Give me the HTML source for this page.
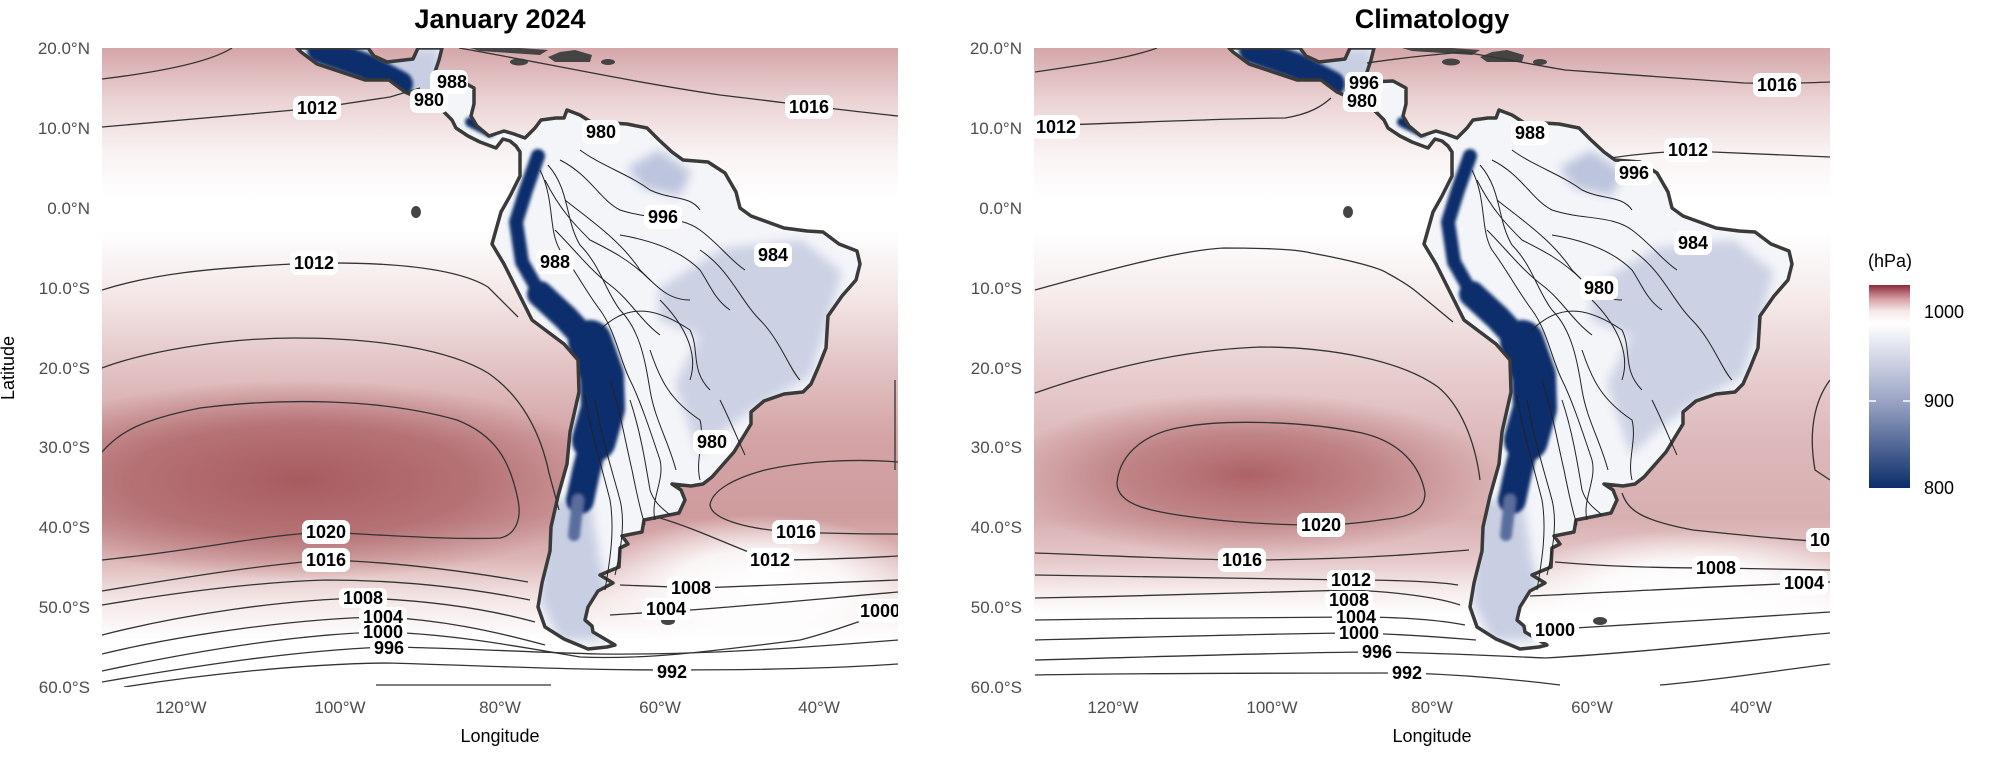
<!DOCTYPE html>
<html><head><meta charset="utf-8"><style>
html,body{margin:0;padding:0;background:#fff}
svg{display:block}
.t{font-family:"Liberation Sans",sans-serif;fill:#4d4d4d;font-size:17px}
.ttl{font-family:"Liberation Sans",sans-serif;font-weight:bold;font-size:27px;fill:#000}
.ax{font-family:"Liberation Sans",sans-serif;font-size:18px;fill:#000}
.c{fill:none;stroke:#333;stroke-width:1.3}
.lc{fill:none;stroke:#222;stroke-width:1}
.lb rect{fill:#fff}
.lb text{font-family:"Liberation Sans",sans-serif;font-weight:bold;font-size:18px;fill:#000;text-anchor:middle}
</style></head><body>
<svg width="1994" height="770" viewBox="0 0 1994 770" xmlns="http://www.w3.org/2000/svg">
<defs>
<clipPath id="cl"><rect x="102" y="48" width="796" height="639"/></clipPath>
<clipPath id="cr"><rect x="1034" y="48" width="796" height="639"/></clipPath>
<linearGradient id="nL" gradientUnits="userSpaceOnUse" x1="0" y1="48" x2="0" y2="200">
<stop offset="0" stop-color="#d4a6a9"/><stop offset="0.35" stop-color="#ebd3d4"/><stop offset="0.7" stop-color="#faf3f3"/><stop offset="1" stop-color="#fff"/></linearGradient>
<linearGradient id="sL" gradientUnits="userSpaceOnUse" x1="0" y1="230" x2="0" y2="640">
<stop offset="0" stop-color="#fff"/><stop offset="0.17" stop-color="#f3e5e5"/><stop offset="0.34" stop-color="#e2c2c3"/><stop offset="0.51" stop-color="#d3a3a5"/><stop offset="0.7" stop-color="#cf9c9e"/><stop offset="0.8" stop-color="#dcb5b6"/><stop offset="0.9" stop-color="#f4e6e6"/><stop offset="1" stop-color="#fff"/></linearGradient>
<linearGradient id="sR" gradientUnits="userSpaceOnUse" x1="0" y1="230" x2="0" y2="615">
<stop offset="0" stop-color="#fff"/><stop offset="0.18" stop-color="#f5eaea"/><stop offset="0.36" stop-color="#e8cfd0"/><stop offset="0.55" stop-color="#ddb8ba"/><stop offset="0.75" stop-color="#d8afb1"/><stop offset="0.86" stop-color="#e6c9ca"/><stop offset="0.94" stop-color="#f7eded"/><stop offset="1" stop-color="#fff"/></linearGradient>
<radialGradient id="hL"><stop offset="0" stop-color="#a85b5f"/><stop offset="0.55" stop-color="#b06a6d" stop-opacity="0.85"/><stop offset="1" stop-color="#b06a6d" stop-opacity="0"/></radialGradient>
<radialGradient id="hR"><stop offset="0" stop-color="#ad6266"/><stop offset="0.5" stop-color="#b8777a" stop-opacity="0.8"/><stop offset="1" stop-color="#b8777a" stop-opacity="0"/></radialGradient>
<radialGradient id="wh"><stop offset="0" stop-color="#fff"/><stop offset="0.5" stop-color="#fff" stop-opacity="0.85"/><stop offset="1" stop-color="#fff" stop-opacity="0"/></radialGradient>
<linearGradient id="cb" x1="0" y1="0" x2="0" y2="1">
<stop offset="0" stop-color="#8b2c3a"/><stop offset="0.07" stop-color="#d9a0a7"/><stop offset="0.13" stop-color="#f6e9eb"/><stop offset="0.19" stop-color="#fff"/><stop offset="0.57" stop-color="#9ba4c4"/><stop offset="1" stop-color="#0c2e6a"/></linearGradient>
<filter id="bl" x="-20%" y="-20%" width="140%" height="140%"><feGaussianBlur stdDeviation="5"/></filter>
<filter id="bl2"><feGaussianBlur stdDeviation="1.5"/></filter>
<path id="sa" d="M297,48 L301,52 L317,64 L341,72 L365,80 L389,80 L405,92 L428,102 L440,108 L452,120 L456,128 L468,136 L480,142 L496,148 L503,139 L510,141 L516,146 L520,152 L520,176 L510,196 L501,212 L492,244 L504,264 L516,288 L532,320 L564,344 L578,360 L579,392 L570,432 L567,464 L558,496 L551,527 L550,551 L542,583 L538,607 L545,627 L564,639 L588,649 L607,647 L615,645 L593,632 L592,626 L585,620 L588,607 L598,591 L613,583 L600,575 L619,567 L620,548 L628,544 L622,536 L642,532 L644,520 L679,513 L685,500 L681,490 L672,484 L691,486 L703,484 L712,477 L734,452 L751,424 L751,412 L764,401 L784,394 L803,392 L811,384 L818,368 L826,348 L828,316 L842,296 L856,280 L860,264 L857,251 L839,244 L823,232 L807,231 L784,228 L751,216 L740,208 L736,192 L725,173 L708,162 L683,160 L672,152 L659,140 L647,128 L627,124 L611,123 L594,124 L580,115 L567,110 L564,118 L556,118 L541,120 L535,128 L525,138 L514,134 L504,131 L489,136 L477,126 L471,116 L474,104 L474,88 L461,81 L437,82 L435,72 L439,60 L442,48 L418,48 L413,59 L387,62 L374,56 L368,48 Z"/>
<clipPath id="lc"><use href="#sa"/></clipPath>
<g id="land">
<use href="#sa" fill="#f4f5f9"/>
<g clip-path="url(#lc)">
<polygon filter="url(#bl)" fill="#ccd2e4" points="659,288 723,248 802,240 842,272 826,328 811,376 755,408 723,432 699,456 675,384 699,336 659,320"/>
<polygon filter="url(#bl)" fill="#bcc5dd" points="627,168 659,150 691,172 680,196 643,188"/>
<polygon filter="url(#bl)" fill="#c8cfe3" points="545,500 590,500 600,560 612,600 600,640 560,640 540,600"/>
<polygon filter="url(#bl)" fill="#c8cfe3" points="300,48 440,48 440,130 400,100 320,70"/>
<g filter="url(#bl2)" fill="none" stroke="#0b2f6c" stroke-linecap="round" stroke-linejoin="round">
<polyline stroke-width="26" points="320,50 365,66 400,84"/>
<polyline stroke-width="10" points="470,122 490,132"/>
<polyline stroke-width="14" points="538,156 526,190 516,222 522,262 540,294"/>
<polyline stroke-width="26" points="540,294 566,318 588,342"/>
<polyline stroke-width="44" points="590,342 602,376 603,408 594,440"/>
<polyline stroke-width="28" points="594,440 586,472 580,500"/>
<polyline stroke-width="12" stroke="#5a6e9e" points="578,500 574,535"/>
</g>
</g>
<use href="#sa" fill="none" stroke="#3a3a3a" stroke-width="3.5" stroke-linejoin="round"/>
<g fill="#444">
<polygon points="470,48 520,48 548,50 540,55 510,53 480,51"/>
<polygon points="548,57 560,52 575,50 592,55 590,62 570,62 555,62"/>
<ellipse cx="519" cy="62" rx="9" ry="3.5"/><ellipse cx="608" cy="62" rx="7" ry="3"/>
<ellipse cx="416" cy="212" rx="5" ry="6"/><ellipse cx="668" cy="621" rx="7" ry="4"/>
</g>
<g class="lc">
<path d="M540,170 C555,200 548,230 560,250 C575,270 585,290 600,310 C615,330 620,360 630,380 C640,400 650,430 660,460 C665,480 650,500 655,520"/>
<path d="M548,165 C570,190 565,220 580,245 C600,265 605,290 620,310 C640,330 645,360 650,390 C655,420 668,440 676,470"/>
<path d="M560,160 C590,175 600,200 620,210 C650,220 680,215 700,230 C720,245 730,260 745,270"/>
<path d="M580,150 C600,165 630,175 650,190 C670,200 690,195 700,210"/>
<path d="M600,330 C630,300 660,310 690,330 C700,350 690,370 710,390"/>
<path d="M650,350 C660,380 670,400 700,420 C705,440 695,460 700,480"/>
<path d="M630,400 C640,430 645,460 650,490 C655,505 665,510 670,515"/>
<path d="M585,395 C590,430 600,460 610,500 C615,530 610,560 605,590"/>
<path d="M595,400 C602,440 612,470 620,500 C625,520 622,545 615,575"/>
<path d="M700,250 C730,270 740,300 760,320 C780,340 790,370 800,380"/>
<path d="M565,200 C590,220 620,240 640,270 C660,290 670,300 690,300"/>
<path d="M660,300 C680,320 700,350 690,380"/>
<path d="M545,180 C560,210 575,225 590,240 C610,250 630,260 650,280"/>
<path d="M555,230 C575,250 590,270 610,285 C630,300 640,320 660,335"/>
<path d="M610,380 C620,410 625,440 632,470 C636,490 640,510 645,525"/>
<path d="M620,235 C650,240 680,250 700,270 C710,285 715,300 730,310"/>
<path d="M720,400 C730,420 738,440 745,455"/>
</g>
</g>
</defs>

<text class="ttl" x="500" y="28" text-anchor="middle">January 2024</text>
<text class="ttl" x="1432" y="28" text-anchor="middle">Climatology</text>

<g clip-path="url(#cl)">
<rect x="102" y="48" width="796" height="639" fill="#fff"/>
<rect x="102" y="48" width="796" height="160" fill="url(#nL)"/>
<rect x="102" y="230" width="796" height="420" fill="url(#sL)"/>
<ellipse cx="300" cy="480" rx="320" ry="100" fill="url(#hL)"/>
<ellipse cx="760" cy="585" rx="170" ry="70" fill="url(#wh)"/>
<use href="#land"/>
<g class="c">
<path d="M102,79 C160,72 210,62 232,48"/>
<path d="M459,48 C540,62 620,80 720,95 C780,102 840,110 898,116"/>
<path d="M102,127 L250,114 L317,108 L390,97 L420,88"/>
<path d="M102,290 C150,275 200,268 314,263 C400,262 460,270 488,287 L518,317"/>
<path d="M102,368 C150,350 230,338 294,338 C380,338 450,350 488,373 C520,395 540,430 549,473 L559,510"/>
<path d="M102,591 C180,578 260,565 326,560 C400,562 470,572 528,582"/>
<path d="M102,452 C120,432 140,420 200,408 C280,398 380,398 457,420 C495,435 510,460 518,500 C522,520 515,535 500,538 C450,540 380,535 326,532 C260,535 200,550 102,560"/>
<path d="M102,605 C180,592 260,582 326,580 C400,580 470,588 530,600"/>
<path d="M102,635 C180,615 280,600 363,598 C420,600 480,607 535,622"/>
<path d="M102,654 C180,635 300,618 383,617 C440,620 490,630 545,645"/>
<path d="M102,671 C200,650 300,634 383,632 C450,634 510,645 580,657 C650,660 720,650 800,640 C840,630 870,616 898,610"/>
<path d="M102,682 C200,665 300,650 388,647 C460,648 520,652 600,654 C700,655 800,648 898,640"/>
<path d="M124,687 C200,675 300,664 386,663 C470,665 560,670 674,670 C760,670 840,668 898,664"/>
<path d="M376,685 L551,685"/>
<path d="M620,585 L700,588 C780,585 850,582 898,580"/>
<path d="M610,615 L690,610 C760,605 830,598 898,592"/>
<path d="M660,518 C700,530 740,550 770,560 C820,560 860,558 898,556"/>
<path d="M898,462 C850,458 800,462 765,470 C735,478 712,490 710,505 C712,520 750,530 796,532 C840,534 870,534 898,534"/>
<path d="M895,380 L895,470"/>
</g>
<g class="lb">
<rect x="430" y="70" width="38" height="24" rx="7"/><text x="452" y="88">988</text>
<rect x="410" y="89" width="38" height="24" rx="7"/><text x="429" y="106">980</text>
<rect x="293" y="96" width="48" height="24" rx="7"/><text x="317" y="114">1012</text>
<rect x="582" y="120" width="38" height="24" rx="7"/><text x="601" y="138">980</text>
<rect x="644" y="205" width="38" height="24" rx="7"/><text x="663" y="223">996</text>
<rect x="536" y="250" width="38" height="24" rx="7"/><text x="555" y="268">988</text>
<rect x="754" y="243" width="38" height="24" rx="7"/><text x="773" y="261">984</text>
<rect x="290" y="251" width="48" height="24" rx="7"/><text x="314" y="269">1012</text>
<rect x="693" y="430" width="38" height="24" rx="7"/><text x="712" y="448">980</text>
<rect x="302" y="520" width="48" height="24" rx="7"/><text x="326" y="538">1020</text>
<rect x="302" y="548" width="48" height="24" rx="7"/><text x="326" y="566">1016</text>
<rect x="772" y="520" width="48" height="24" rx="7"/><text x="796" y="538">1016</text>
<rect x="746" y="548" width="48" height="24" rx="7"/><text x="770" y="566">1012</text>
<rect x="339" y="588" width="48" height="20" rx="6"/><text x="363" y="604">1008</text>
<rect x="359" y="607" width="48" height="18" rx="6"/><text x="383" y="623">1004</text>
<rect x="359" y="624" width="48" height="16" rx="6"/><text x="383" y="638">1000</text>
<rect x="370" y="639" width="38" height="18" rx="6"/><text x="389" y="654">996</text>
<rect x="667" y="577" width="48" height="22" rx="6"/><text x="691" y="594">1008</text>
<rect x="642" y="598" width="48" height="22" rx="6"/><text x="666" y="615">1004</text>
<rect x="856" y="599" width="48" height="24" rx="7"/><text x="880" y="617">1000</text>
<rect x="653" y="661" width="38" height="22" rx="6"/><text x="672" y="678">992</text>
<rect x="785" y="95" width="48" height="24" rx="7"/><text x="809" y="113">1016</text>
</g>
</g>

<g clip-path="url(#cr)">
<rect x="1034" y="48" width="796" height="639" fill="#fff"/>
<rect x="1034" y="48" width="796" height="160" fill="url(#nL)"/>
<rect x="1034" y="230" width="796" height="420" fill="url(#sR)"/>
<ellipse cx="1250" cy="475" rx="250" ry="82" fill="url(#hR)"/>
<ellipse cx="1690" cy="590" rx="180" ry="60" fill="url(#wh)"/>
<use href="#land" transform="translate(932,0)"/>
<g class="c">
<path d="M1035,72 C1090,64 1130,58 1157,48"/>
<path d="M1367,63 C1400,58 1430,55 1463,52 C1500,58 1530,64 1565,70 C1650,76 1700,80 1744,83 C1780,84 1800,83 1830,82"/>
<path d="M1035,126 C1150,122 1240,118 1285,118 C1310,114 1322,106 1331,98"/>
<path d="M1610,158 C1650,152 1690,150 1713,152 C1760,154 1800,156 1830,157"/>
<path d="M1035,290 C1100,272 1180,250 1224,248 C1270,248 1300,250 1311,253 C1350,260 1380,268 1387,273 C1400,280 1410,286 1418,293 L1453,322"/>
<path d="M1035,393 C1100,370 1180,350 1260,347 C1330,347 1400,360 1438,387 C1460,405 1475,440 1480,480"/>
<path d="M1035,553 C1120,556 1200,560 1242,560 C1320,560 1400,556 1469,550"/>
<path d="M1117,483 C1120,450 1150,432 1183,427 C1220,420 1300,420 1362,433 C1400,442 1420,465 1425,493 C1425,510 1410,517 1387,519 C1360,523 1340,525 1321,525 C1280,525 1240,523 1200,518 C1150,512 1117,505 1117,483 Z"/>
<path d="M1035,575 C1200,577 1300,580 1351,580 C1400,580 1440,582 1458,585"/>
<path d="M1035,598 C1150,596 1280,592 1351,590 C1400,592 1440,598 1460,605"/>
<path d="M1035,620 C1150,618 1300,617 1356,617 C1400,617 1440,620 1465,625"/>
<path d="M1035,640 C1150,637 1300,633 1356,633 C1400,634 1440,637 1476,640"/>
<path d="M1035,660 C1150,657 1300,652 1377,652 C1440,653 1500,656 1545,658 C1650,652 1750,640 1830,633"/>
<path d="M1035,675 C1150,673 1300,673 1407,673 C1470,675 1520,680 1560,685"/>
<path d="M1660,685 C1720,680 1780,670 1830,664"/>
<path d="M1575,628 C1650,624 1750,617 1830,612"/>
<path d="M1530,596 C1620,592 1720,586 1830,582"/>
<path d="M1555,562 C1600,566 1650,568 1716,568 L1830,570"/>
<path d="M1622,493 C1628,510 1640,520 1693,530 C1740,535 1790,540 1830,542"/>
<path d="M1830,380 C1815,400 1808,430 1815,470 L1830,480"/>
</g>
<g class="lb">
<rect x="1345" y="72" width="38" height="22" rx="6"/><text x="1364" y="89">996</text>
<rect x="1343" y="90" width="38" height="22" rx="6"/><text x="1362" y="107">980</text>
<rect x="1032" y="115" width="48" height="24" rx="7"/><text x="1056" y="133">1012</text>
<rect x="1753" y="73" width="48" height="24" rx="7"/><text x="1777" y="91">1016</text>
<rect x="1511" y="121" width="38" height="24" rx="7"/><text x="1530" y="139">988</text>
<rect x="1664" y="138" width="48" height="24" rx="7"/><text x="1688" y="156">1012</text>
<rect x="1615" y="161" width="38" height="24" rx="7"/><text x="1634" y="179">996</text>
<rect x="1674" y="231" width="38" height="24" rx="7"/><text x="1693" y="249">984</text>
<rect x="1580" y="276" width="38" height="24" rx="7"/><text x="1599" y="294">980</text>
<rect x="1297" y="513" width="48" height="24" rx="7"/><text x="1321" y="531">1020</text>
<rect x="1218" y="548" width="48" height="24" rx="7"/><text x="1242" y="566">1016</text>
<rect x="1327" y="570" width="48" height="20" rx="6"/><text x="1351" y="586">1012</text>
<rect x="1325" y="591" width="48" height="18" rx="6"/><text x="1349" y="606">1008</text>
<rect x="1332" y="609" width="48" height="17" rx="6"/><text x="1356" y="623">1004</text>
<rect x="1335" y="626" width="48" height="16" rx="6"/><text x="1359" y="639">1000</text>
<rect x="1358" y="643" width="38" height="18" rx="6"/><text x="1377" y="658">996</text>
<rect x="1388" y="662" width="38" height="22" rx="6"/><text x="1407" y="679">992</text>
<rect x="1531" y="618" width="48" height="24" rx="7"/><text x="1555" y="636">1000</text>
<rect x="1692" y="556" width="48" height="24" rx="7"/><text x="1716" y="574">1008</text>
<rect x="1780" y="571" width="48" height="24" rx="7"/><text x="1804" y="589">1004</text>
<rect x="1806" y="528" width="48" height="24" rx="7"/><text x="1830" y="546">1012</text>
</g>
</g>

<g class="t" text-anchor="end">
<text x="90" y="54">20.0°N</text><text x="90" y="134">10.0°N</text><text x="90" y="214">0.0°N</text><text x="90" y="294">10.0°S</text><text x="90" y="374">20.0°S</text><text x="90" y="453">30.0°S</text><text x="90" y="533">40.0°S</text><text x="90" y="613">50.0°S</text><text x="90" y="693">60.0°S</text>
<text x="1022" y="54">20.0°N</text><text x="1022" y="134">10.0°N</text><text x="1022" y="214">0.0°N</text><text x="1022" y="294">10.0°S</text><text x="1022" y="374">20.0°S</text><text x="1022" y="453">30.0°S</text><text x="1022" y="533">40.0°S</text><text x="1022" y="613">50.0°S</text><text x="1022" y="693">60.0°S</text>
</g>
<g class="t" text-anchor="middle">
<text x="181" y="713">120°W</text><text x="340" y="713">100°W</text><text x="500" y="713">80°W</text><text x="660" y="713">60°W</text><text x="819" y="713">40°W</text>
<text x="1113" y="713">120°W</text><text x="1272" y="713">100°W</text><text x="1432" y="713">80°W</text><text x="1592" y="713">60°W</text><text x="1751" y="713">40°W</text>
</g>
<text class="ax" x="500" y="742" text-anchor="middle">Longitude</text>
<text class="ax" x="1432" y="742" text-anchor="middle">Longitude</text>
<text class="ax" transform="translate(14,368) rotate(-90)" text-anchor="middle">Latitude</text>

<text class="ax" x="1868" y="267" font-size="23">(hPa)</text>
<rect x="1869" y="285" width="41" height="203" fill="url(#cb)"/>
<line x1="1869" y1="401" x2="1876" y2="401" stroke="#fff" stroke-width="1.5"/>
<line x1="1903" y1="401" x2="1910" y2="401" stroke="#fff" stroke-width="1.5"/>
<g class="ax"><text x="1924" y="318">1000</text><text x="1924" y="407">900</text><text x="1924" y="494">800</text></g>
</svg>
</body></html>
